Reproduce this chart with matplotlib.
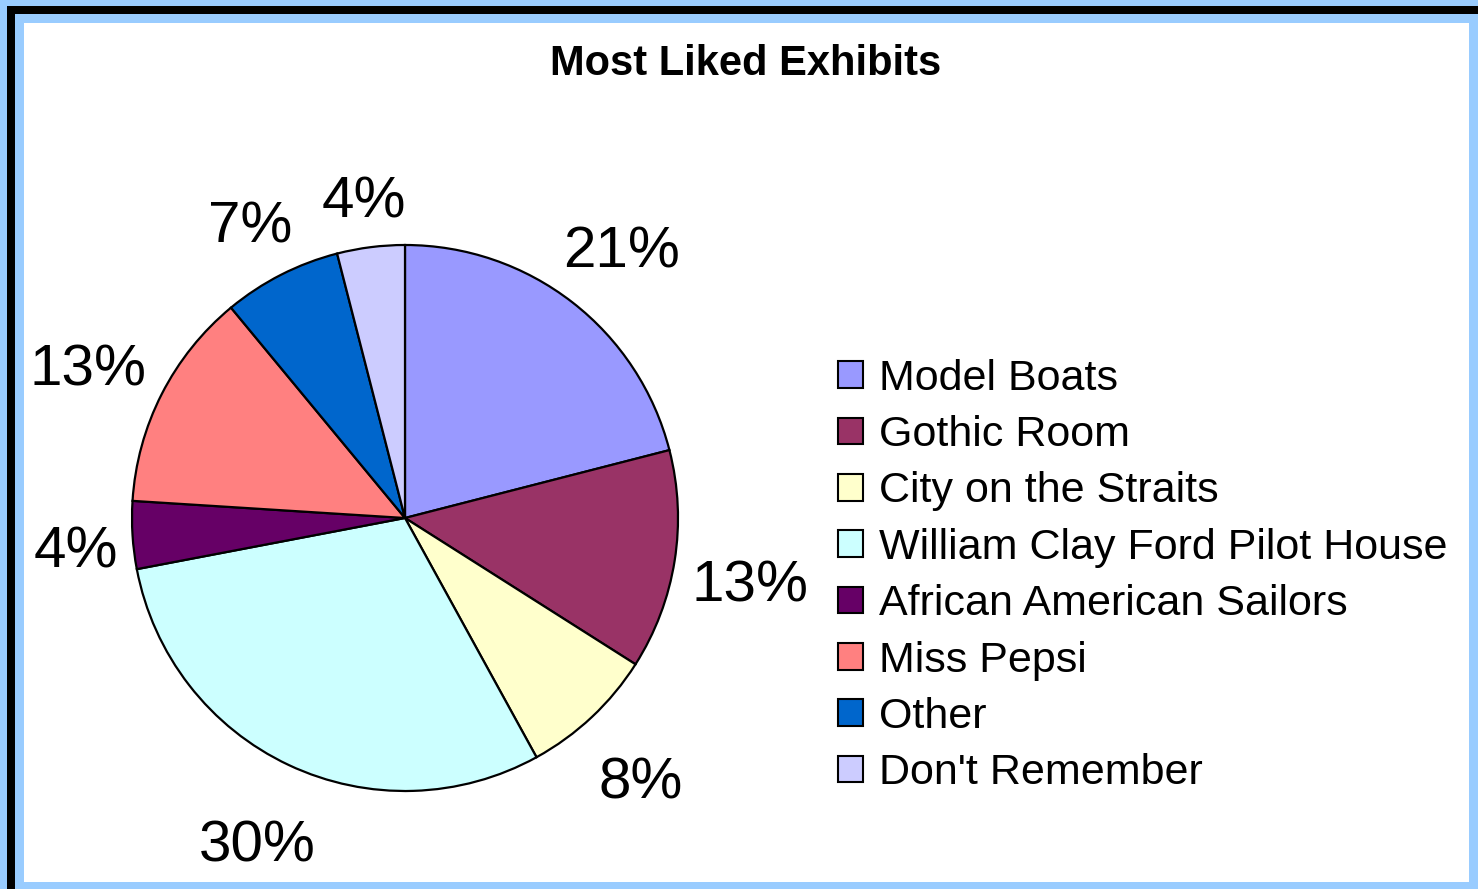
import matplotlib.pyplot as plt
from matplotlib.patches import Rectangle, Patch
import numpy as np

plt.rcParams['font.family'] = ['Liberation Sans', 'DejaVu Sans']

# данные диаграммы
exhibits = ['Model Boats', 'Gothic Room', 'City on the Straits',
            'William Clay Ford Pilot House', 'African American Sailors',
            'Miss Pepsi', 'Other', "Don't Remember"]
shares = [21, 13, 8, 30, 4, 13, 7, 4]
colors = ['#9999FF', '#993366', '#FFFFCC', '#CCFFFF',
          '#660066', '#FF8080', '#0066CC', '#CCCCFF']

W, H = 1478, 889
fig = plt.figure(figsize=(W / 100, H / 100), dpi=100)
fig.patch.set_facecolor('#99CCFF')

# рамка: чёрная линия, голубая полоса, белое поле
frame = [((7, 0), W, H - 6, 'black'),
         ((15, 0), W, H - 14, '#99CCFF'),
         ((24, 7), 1469 - 24, 882 - 23, 'white')]
for (x0, y0), w, h, c in frame:
    fig.patches.append(Rectangle((x0 / W, y0 / H), w / W, h / H,
                                 transform=fig.transFigure, facecolor=c,
                                 edgecolor='none', zorder=-10))

# оси в пикселях фигуры
ax = fig.add_axes([0, 0, 1, 1], zorder=1)
ax.patch.set_visible(False)

cx, cy, r = 405, H - 518, 273
wedges, texts, autotexts = ax.pie(
    shares, colors=colors, startangle=90, counterclock=False,
    center=(cx, cy), radius=r, autopct='%d%%', pctdistance=1.28,
    wedgeprops=dict(edgecolor='black', linewidth=1.6),
    textprops=dict(fontsize=42, color='black'), frame=True)
ax.set_xlim(0, W)
ax.set_ylim(0, H)
ax.set_aspect('equal')
ax.axis('off')

# подписи ставим снаружи круга с учётом ширины текста
fig.canvas.draw()
for wdg, t in zip(wedges, autotexts):
    t.set_va('center_baseline')
    ang = np.deg2rad((wdg.theta1 + wdg.theta2) / 2)
    half_w = t.get_window_extent().width / 2
    d = r + 12 + half_w * abs(np.cos(ang)) + 42 * abs(np.sin(ang))
    t.set_position((cx + d * np.cos(ang), cy + d * np.sin(ang) - 8))

fig.text(746 / W, 1 - 75 / H, 'Most Liked Exhibits', ha='center', va='baseline',
         fontsize=30, fontweight='bold')

handles = [Patch(facecolor=c, edgecolor='black', linewidth=1.5) for c in colors]
fig.legend(handles, exhibits, loc='center left',
           bbox_to_anchor=(838 / W, 1 - 576 / H), frameon=False,
           fontsize=31, borderpad=0, borderaxespad=0,
           handlelength=0.58, handleheight=0.58, handletextpad=0.38,
           labelspacing=0.38)

fig.savefig('out.png', dpi=100, facecolor=fig.get_facecolor())
